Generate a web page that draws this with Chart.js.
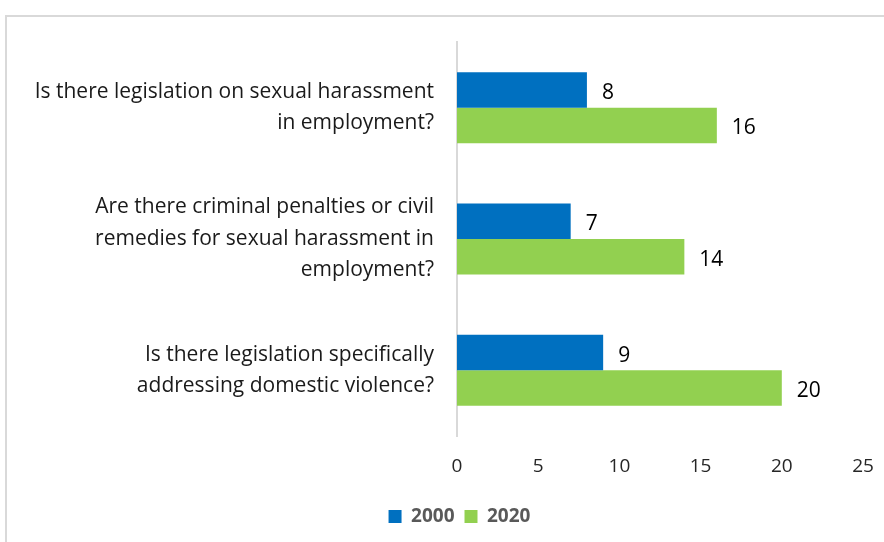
<!DOCTYPE html>
<html>
<head>
<meta charset="utf-8">
<script src="https://cdn.jsdelivr.net/npm/chart.js@4/dist/chart.umd.min.js"></script>
<style>
  body { margin: 0; background: #fff; }
  #frame { position: absolute; left: 5px; top: 15px; width: 1000px; height: 600px; border: 2px solid #d9d9d9; }
  #wrap { position: absolute; left: 0; top: 0; width: 884px; height: 542px; }
</style>
</head>
<body>
<div id="frame"></div>
<div id="wrap"><canvas id="chart" width="884" height="542"></canvas></div>
<script>
  // chart data
  var questions = [
    ['Is there legislation on sexual harassment', 'in employment?'],
    ['Are there criminal penalties or civil', 'remedies for sexual harassment in', 'employment?'],
    ['Is there legislation specifically', 'addressing domestic violence?']
  ];
  var years = ['2000', '2020'];
  var values2000 = [8, 7, 9];
  var values2020 = [16, 14, 20];
  var xTicks = [0, 5, 10, 15, 20, 25];

  var fontFamily = '"Open Sans", "Liberation Sans", sans-serif';

  // draws the value next to the end of each bar
  var valueLabels = {
    id: 'valueLabels',
    afterDatasetsDraw: function (chart) {
      var ctx = chart.ctx;
      ctx.save();
      ctx.font = '21px ' + fontFamily;
      ctx.fillStyle = '#000';
      ctx.textAlign = 'left';
      ctx.textBaseline = 'middle';
      chart.data.datasets.forEach(function (ds, i) {
        chart.getDatasetMeta(i).data.forEach(function (bar, j) {
          ctx.fillText(ds.data[j], bar.x + 15, bar.y + 3);
        });
      });
      ctx.restore();
    }
  };

  // legend sits centred under the plot rather than the whole canvas
  var legendShift = {
    id: 'legendShift',
    afterLayout: function (chart) {
      chart.legend.left += 28;
      chart.legend.right += 28;
    }
  };

  var ctx = document.getElementById('chart').getContext('2d');
  window.myBar = new Chart(ctx, {
    type: 'bar',
    data: {
      labels: questions,
      datasets: [
        {label: years[0], data: values2000, backgroundColor: '#0070c0'},
        {label: years[1], data: values2020, backgroundColor: '#92d050'}
      ]
    },
    options: {
      indexAxis: 'y',
      responsive: false,
      animation: false,
      layout: {padding: {top: 42, right: 21, bottom: 6, left: 0}},
      datasets: {bar: {categoryPercentage: 0.54, barPercentage: 1}},
      scales: {
        x: {
          min: xTicks[0],
          max: xTicks[xTicks.length - 1],
          afterBuildTicks: function (scale) {
            scale.ticks = xTicks.map(function (v) { return {value: v}; });
          },
          afterFit: function (scale) {
            scale.height = 61;
            scale.paddingLeft = 0;
            scale.paddingRight = 0;
          },
          grid: {display: false, drawTicks: false},
          border: {display: false},
          ticks: {padding: 19, color: '#262626', font: {family: fontFamily, size: 19}}
        },
        y: {
          afterFit: function (scale) {
            scale.width = 457;
            scale.paddingTop = 0;
            scale.paddingBottom = 0;
          },
          grid: {display: false, drawTicks: false},
          border: {display: true, color: '#d9d9d9', width: 2},
          ticks: {padding: 23, color: '#1a1a1a', font: {family: fontFamily, size: 21, lineHeight: 1.5}}
        }
      },
      plugins: {
        tooltip: {enabled: false},
        legend: {
          position: 'bottom',
          labels: {
            boxWidth: 13,
            boxHeight: 13,
            padding: 10,
            color: '#595959',
            font: {family: fontFamily, size: 19, weight: 'bold'}
          }
        }
      }
    },
    plugins: [valueLabels, legendShift]
  });
</script>
</body>
</html>
